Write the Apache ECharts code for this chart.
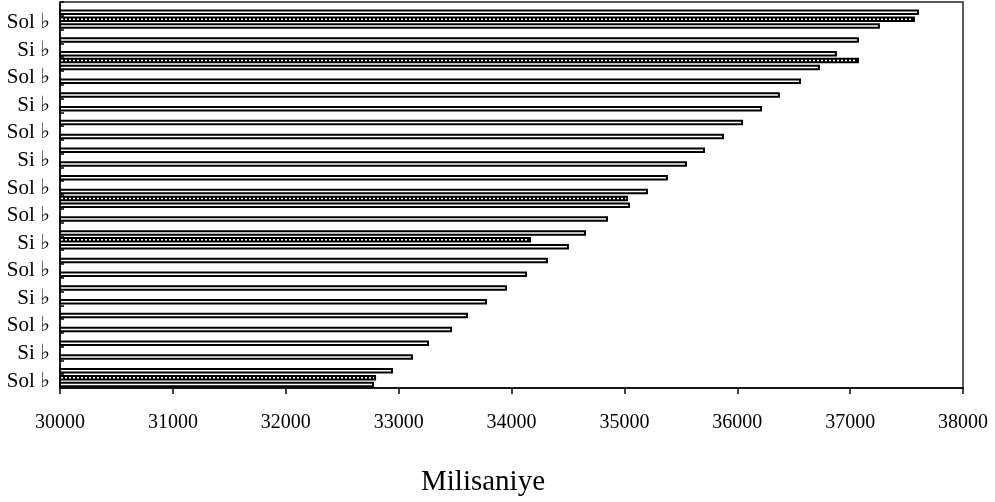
<!DOCTYPE html>
<html>
<head>
<meta charset="utf-8">
<script src="https://cdn.jsdelivr.net/npm/echarts@6/dist/echarts.min.js"></script>
<style>
  html, body { margin: 0; padding: 0; background: #fff; }
  #chart { width: 995px; height: 502px; }
</style>
</head>
<body>
<div id="chart"></div>
<script>
// categories, top to bottom (each note covers two rows)
const notes = [
  'Sol ♭', 'Sol ♭', 'Si ♭', 'Si ♭', 'Sol ♭', 'Sol ♭', 'Si ♭', 'Si ♭',
  'Sol ♭', 'Sol ♭', 'Si ♭', 'Si ♭', 'Sol ♭', 'Sol ♭', 'Sol ♭', 'Sol ♭',
  'Si ♭', 'Si ♭', 'Sol ♭', 'Sol ♭', 'Si ♭', 'Si ♭', 'Sol ♭', 'Sol ♭',
  'Si ♭', 'Si ♭', 'Sol ♭', 'Sol ♭'
]

// plain (white) bars, top to bottom
const plainValues = [
  37610, 37264, 37078, 36883, 36733, 36565, 36378, 36219, 36051, 35882,
  35714, 35555, 35386, 35209, 35050, 34855, 34660, 34509, 34323, 34137,
  33960, 33783, 33614, 33473, 33269, 33127, 32950, 32782
]

// dotted bars, only a few rows have one
const dottedValues = [
  null, 37574, null, null, 37078, null, null, null, null, null,
  null, null, null, null, 35032, null, null, 34173, null, null,
  null, null, null, null, null, null, null, 32800
]

const xTicks = { min: 30000, max: 38000, step: 1000 }

// small black/white pattern for the dotted bars
const patternCanvas = document.createElement('canvas')
patternCanvas.width = 4
patternCanvas.height = 2
const pctx = patternCanvas.getContext('2d')
pctx.fillStyle = '#000'
pctx.fillRect(0, 0, 4, 2)
pctx.fillStyle = '#fff'
pctx.fillRect(1, 0, 2, 2)

const serif = "'Liberation Serif', 'DejaVu Serif', serif"

const chart = echarts.init(document.getElementById('chart'))

const option = {
  animation: false,
  backgroundColor: '#fff',
  title: {
    text: 'Milisaniye',
    left: 416,
    top: 463,
    textStyle: { fontFamily: serif, fontSize: 29, fontWeight: 'normal', color: '#000' }
  },
  grid: {
    left: 60,
    right: 32,
    top: 2,
    bottom: 114,
    show: true,
    borderColor: '#222',
    borderWidth: 1.5
  },
  xAxis: {
    type: 'value',
    min: xTicks.min,
    max: xTicks.max,
    interval: xTicks.step,
    axisLine: { show: true, lineStyle: { color: '#000', width: 1.5 } },
    axisTick: { show: true, length: 6, lineStyle: { color: '#000', width: 1.5 } },
    splitLine: { show: false },
    axisLabel: {
      fontFamily: serif,
      fontSize: 20,
      color: '#000',
      margin: 25,
      formatter: function (v) { return String(v) }
    }
  },
  yAxis: {
    type: 'category',
    inverse: true,
    data: notes,
    axisLine: { show: true, lineStyle: { color: '#000', width: 1.5 } },
    axisTick: { show: true, inside: true, length: 4, interval: 0, lineStyle: { color: '#000', width: 1.5 } },
    axisLabel: {
      interval: function (i) { return i % 2 === 1 },
      fontFamily: serif,
      fontSize: 21,
      color: '#000',
      margin: 10,
      padding: [0, 0, 19, 0]
    }
  },
  series: [
    {
      name: 'dotted',
      type: 'bar',
      data: dottedValues,
      barWidth: 5.5,
      barGap: '25%',
      itemStyle: {
        color: { image: patternCanvas, repeat: 'repeat' },
        borderColor: '#000',
        borderWidth: 2
      }
    },
    {
      name: 'plain',
      type: 'bar',
      data: plainValues,
      barWidth: 5.5,
      itemStyle: {
        color: '#fff',
        borderColor: '#000',
        borderWidth: 2
      }
    }
  ]
}

chart.setOption(option)
</script>
</body>
</html>
